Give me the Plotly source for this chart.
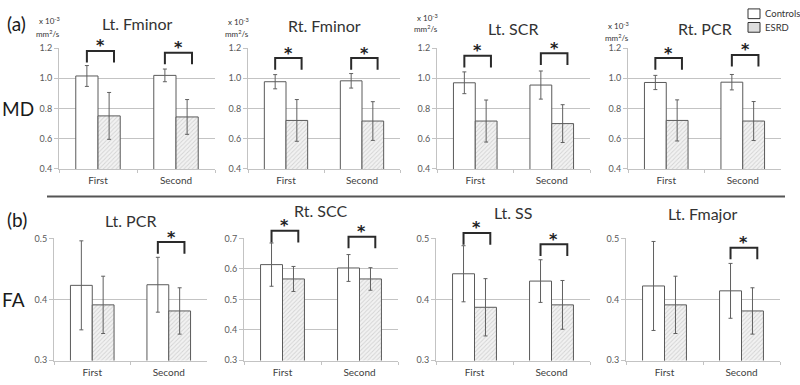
import plotly.graph_objects as go

# ---------------- data ----------------
categories = ["First", "Second"]
panel_titles = ["Lt. Fminor", "Rt. Fminor", "Lt. SCR", "Rt. PCR",
                "Lt. PCR", "Rt. SCC", "Lt. SS", "Lt. Fmajor"]
controls_mean = [[1.015, 1.019], [0.977, 0.983], [0.970, 0.955], [0.972, 0.974],
                 [0.423, 0.424], [0.614, 0.603], [0.442, 0.430], [0.422, 0.414]]
controls_sd = [[0.069, 0.042], [0.047, 0.048], [0.072, 0.093], [0.047, 0.051],
               [0.073, 0.045], [0.071, 0.044], [0.046, 0.035], [0.073, 0.045]]
esrd_mean = [[0.751, 0.744], [0.721, 0.717], [0.717, 0.700], [0.721, 0.717],
             [0.391, 0.381], [0.567, 0.567], [0.387, 0.391], [0.391, 0.381]]
esrd_sd = [[0.155, 0.115], [0.138, 0.128], [0.139, 0.125], [0.136, 0.129],
           [0.047, 0.038], [0.041, 0.037], [0.047, 0.040], [0.047, 0.038]]
significant = [[True, True], [True, True], [True, True], [True, True],
               [False, True], [True, True], [True, True], [False, True]]
bracket_top = [[1.179, 1.168], [1.132, 1.132], [1.147, 1.164], [1.132, 1.153],
               [None, 0.4936], [0.724, 0.705], [0.5085, 0.490], [None, 0.4845]]
y_ticks = [[0.4, 0.6, 0.8, 1.0, 1.2]] * 4 + [[0.3, 0.4, 0.5], [0.3, 0.4, 0.5, 0.6, 0.7],
                                            [0.3, 0.4, 0.5], [0.3, 0.4, 0.5]]
row_labels = ["MD", "FA"]
panel_letters = ["(a)", "(b)"]
series_names = ["Controls", "ESRD"]

# ---------------- layout constants (pixels) ----------------
W, H = 800, 385
x_dom_px = [[59, 215], [248, 400], [437, 590], [628, 781],
            [54, 207], [244, 398], [436, 590], [626, 780]]
y_dom_px = [[43, 168]] * 4 + [[239, 365]] * 4
title_y_px = [18, 20, 23, 23, 221, 211, 213, 214]
unit_y_px = [[15, 28], [16, 28], [12, 23], [20, 32]]
BARGAP = 0.43
FONT = "Lato"
GRID = "#c3c3c3"
EDGE = "#5a5a5a"


def px_x(p):
    return p / W


def px_y(p):
    return 1 - p / H


fig = go.Figure()
layout_axes = {}
shapes = []
annotations = []

bw = (1 - BARGAP) / 2  # bar width in category units

for i in range(8):
    sfx = "" if i == 0 else str(i + 1)
    xa, ya = "x" + sfx, "y" + sfx
    fig.add_trace(go.Bar(
        x=categories, y=controls_mean[i], name=series_names[0],
        xaxis=xa, yaxis=ya, showlegend=False,
        marker=dict(color="white", line=dict(color=EDGE, width=1)),
        error_y=dict(type="data", array=controls_sd[i], color="#606060",
                     thickness=1, width=2),
    ))
    fig.add_trace(go.Bar(
        x=categories, y=esrd_mean[i], name=series_names[1],
        xaxis=xa, yaxis=ya, showlegend=False,
        marker=dict(color="#eeeeee", line=dict(color=EDGE, width=1),
                    pattern=dict(shape="/", fgcolor="#b4b4b4", bgcolor="#f2f2f2",
                                 size=3, solidity=0.3)),
        error_y=dict(type="data", array=esrd_sd[i], color="#606060",
                     thickness=1, width=2),
    ))
    span = y_ticks[i][-1] - y_ticks[i][0]
    yr = [y_ticks[i][0], y_ticks[i][-1]]
    layout_axes["xaxis" + sfx] = dict(
        domain=[px_x(x_dom_px[i][0]), px_x(x_dom_px[i][1])], anchor=ya,
        type="category", range=[-0.5, 1.5], showline=True, linecolor=GRID,
        ticks="outside", ticklen=3, tickcolor=GRID, tickson="boundaries",
        tickfont=dict(family=FONT, size=10, color="#404040"),
        showgrid=False, fixedrange=True, ticklabelstandoff=2,
    )
    layout_axes["yaxis" + sfx] = dict(
        domain=[px_y(y_dom_px[i][1]), px_y(y_dom_px[i][0])], anchor=xa,
        range=[yr[0] - span * 0.002, yr[1] + span * 0.002],
        tickmode="linear", tick0=y_ticks[i][0], dtick=y_ticks[i][1] - y_ticks[i][0],
        tickformat=".1f",
        showline=True, linecolor=GRID, ticks="outside", ticklen=4, tickcolor=GRID,
        showgrid=True, gridcolor=GRID, gridwidth=1, zeroline=False,
        tickfont=dict(family=FONT, size=9, color="#595959"), fixedrange=True,
    )
    # title
    annotations.append(dict(
        text=panel_titles[i], xref="paper", yref="paper",
        x=px_x((x_dom_px[i][0] + x_dom_px[i][1]) / 2), y=px_y(title_y_px[i]),
        xanchor="center", yanchor="middle", showarrow=False,
        font=dict(family=FONT, size=16, color="#333333"),
    ))
    # significance brackets
    hpx = y_dom_px[i][1] - y_dom_px[i][0]
    leg = 12 / hpx
    for j in range(2):
        if not significant[i][j]:
            continue
        xl = j - bw / 2
        xr = j + bw / 2 + 0.22 * bw
        fl, fr = (xl + 0.5) / 2, (xr + 0.5) / 2
        ft = (bracket_top[i][j] - yr[0]) / (yr[1] - yr[0])
        shapes.append(dict(
            type="path", xref=xa + " domain", yref=ya + " domain",
            path=f"M {fl},{ft - leg} L {fl},{ft} L {fr},{ft} L {fr},{ft - leg}",
            line=dict(color="#2a2a2a", width=2),
        ))
        annotations.append(dict(
            text="<b>*</b>", xref=xa + " domain", yref=ya + " domain",
            x=(fl + fr) / 2, y=ft, xanchor="center", yanchor="middle",
            yshift=5, showarrow=False,
            font=dict(family="DejaVu Sans", size=16, color="#222222"),
        ))

# units labels for MD panels
for i in range(4):
    xr_px = x_dom_px[i][0] + 3
    annotations.append(dict(
        text="x 10<sup>-3</sup>", xref="paper", yref="paper",
        x=px_x(xr_px), y=px_y(unit_y_px[i][0]), xanchor="right", yanchor="middle",
        showarrow=False, font=dict(family=FONT, size=8, color="#333333"),
    ))
    annotations.append(dict(
        text="mm<sup>2</sup>/s", xref="paper", yref="paper",
        x=px_x(xr_px), y=px_y(unit_y_px[i][1]), xanchor="right", yanchor="middle",
        showarrow=False, font=dict(family=FONT, size=8, color="#333333"),
    ))

# row labels and panel letters
for txt, yp in zip(panel_letters, [18, 220]):
    annotations.append(dict(
        text=txt, xref="paper", yref="paper", x=px_x(5), y=px_y(yp),
        xanchor="left", yanchor="middle", showarrow=False,
        font=dict(family=FONT, size=19, color="#1a1a1a"),
    ))
for txt, yp in zip(row_labels, [106, 302]):
    annotations.append(dict(
        text=txt, xref="paper", yref="paper", x=px_x(0), y=px_y(yp),
        xanchor="left", yanchor="middle", showarrow=False,
        font=dict(family=FONT, size=19, color="#1a1a1a"),
    ))

# separator line between rows
shapes.append(dict(type="line", xref="paper", yref="paper",
                   x0=px_x(47), x1=px_x(785), y0=px_y(196), y1=px_y(196),
                   line=dict(color="#555555", width=2)))

# legend (boxes + labels)
legend_fill = ["white", "#dedede"]
for k, (name, yp) in enumerate(zip(series_names, [[3, 13], [17, 27]])):
    shapes.append(dict(type="rect", xref="paper", yref="paper",
                       x0=px_x(748), x1=px_x(760), y0=px_y(yp[1]), y1=px_y(yp[0]),
                       line=dict(color="#333333", width=1), fillcolor=legend_fill[k]))
    annotations.append(dict(
        text=name, xref="paper", yref="paper", x=px_x(763), y=px_y((yp[0] + yp[1]) / 2),
        xanchor="left", yanchor="middle", showarrow=False,
        font=dict(family=FONT, size=9.5, color="#333333"),
    ))

fig.update_layout(
    width=W, height=H, autosize=False,
    margin=dict(l=0, r=0, t=0, b=0),
    paper_bgcolor="white", plot_bgcolor="white",
    barmode="group", bargap=BARGAP, bargroupgap=0,
    showlegend=False, shapes=shapes, annotations=annotations,
    font=dict(family=FONT),
    **layout_axes,
)

fig.write_html("out.html", config={"displayModeBar": False},
               post_script="document.body.style.margin='0';document.body.style.overflow='hidden';")
